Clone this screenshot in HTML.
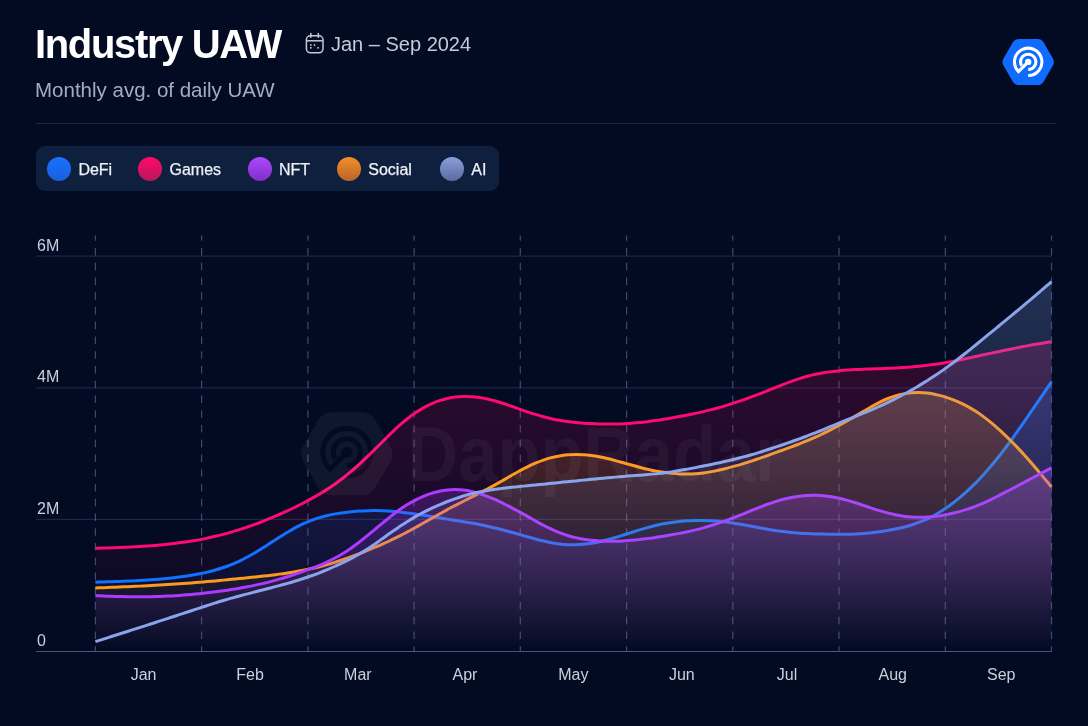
<!DOCTYPE html>
<html><head><meta charset="utf-8">
<style>
html,body{margin:0;padding:0;}
body{width:1088px;height:726px;background:#020b22;position:relative;overflow:hidden;font-family:"Liberation Sans",sans-serif;}
.title{position:absolute;left:35px;top:21px;font-size:40px;font-weight:700;color:#fff;white-space:nowrap;letter-spacing:-1.35px;line-height:46px;}
.sub{position:absolute;left:34.5px;top:78px;font-size:20.5px;color:#a2adc1;white-space:nowrap;line-height:24px;letter-spacing:0px;}
.date{position:absolute;left:331px;top:32px;font-size:20px;color:#c3cad8;white-space:nowrap;line-height:24px;}
.sep{position:absolute;left:36px;top:123px;width:1020px;height:1px;background:#1a2744;}
.legend{position:absolute;left:35.5px;top:146px;width:462.5px;height:45px;background:#0f203f;border-radius:9px;}
.li{position:absolute;top:0.8px;height:45px;line-height:45px;font-size:16px;color:#eef1f6;white-space:nowrap;-webkit-text-stroke:0.25px #eef1f6;}
.dot{position:absolute;top:10.8px;width:24px;height:24px;border-radius:50%;}
svg{position:absolute;left:0;top:0;will-change:transform;}
.title,.sub,.date,.legend{will-change:transform;}
</style></head><body>
<div class="title">Industry UAW</div>
<div class="date">Jan – Sep 2024</div>
<div class="sub">Monthly avg. of daily UAW</div>
<div class="sep"></div>
<div class="legend">
 <div class="dot" style="left:10.8px;background:linear-gradient(#1772ff,#1a5fdc)"></div><div class="li" style="left:42.4px">DeFi</div>
 <div class="dot" style="left:102.1px;background:linear-gradient(#ff0a6a,#b8185a)"></div><div class="li" style="left:133.5px">Games</div>
 <div class="dot" style="left:212px;background:linear-gradient(#b048ff,#7f2fc8)"></div><div class="li" style="left:243px">NFT</div>
 <div class="dot" style="left:300.8px;background:linear-gradient(#f58d2a,#b8642a)"></div><div class="li" style="left:332.3px">Social</div>
 <div class="dot" style="left:403.5px;background:linear-gradient(#8aa0dc,#5a6a9c)"></div><div class="li" style="left:435.3px">AI</div>
</div>
<svg width="1088" height="726" viewBox="0 0 1088 726">
<defs><linearGradient id="g_games" gradientUnits="userSpaceOnUse" x1="0" y1="341.7" x2="0" y2="651.5"><stop offset="0" stop-color="#ff0a70" stop-opacity="0.19"/><stop offset="1" stop-color="#ff0a70" stop-opacity="0"/></linearGradient><linearGradient id="g_defi" gradientUnits="userSpaceOnUse" x1="0" y1="381.8" x2="0" y2="651.5"><stop offset="0" stop-color="#1172ff" stop-opacity="0.22"/><stop offset="1" stop-color="#1172ff" stop-opacity="0"/></linearGradient><linearGradient id="g_social" gradientUnits="userSpaceOnUse" x1="0" y1="392.5" x2="0" y2="651.5"><stop offset="0" stop-color="#ff981f" stop-opacity="0.21"/><stop offset="1" stop-color="#ff981f" stop-opacity="0"/></linearGradient><linearGradient id="g_nft" gradientUnits="userSpaceOnUse" x1="0" y1="467.7" x2="0" y2="651.5"><stop offset="0" stop-color="#ad3bff" stop-opacity="0.28"/><stop offset="1" stop-color="#ad3bff" stop-opacity="0"/></linearGradient><linearGradient id="g_ai" gradientUnits="userSpaceOnUse" x1="0" y1="281.7" x2="0" y2="651.5"><stop offset="0" stop-color="#8aa3ea" stop-opacity="0.25"/><stop offset="1" stop-color="#8aa3ea" stop-opacity="0"/></linearGradient></defs>
<g fill="none" stroke="#c3cad8" stroke-width="1.5"><rect x="306.4" y="35.8" width="16.6" height="17" rx="4"/><line x1="306.4" y1="40.8" x2="322.8" y2="40.8"/><line x1="310.8" y1="33.6" x2="310.8" y2="37.2" stroke-linecap="round"/><line x1="318.3" y1="33.6" x2="318.3" y2="37.2" stroke-linecap="round"/></g>
<g fill="#c3cad8"><rect x="310" y="44.2" width="1.6" height="1.6"/><rect x="313.7" y="44.2" width="1.6" height="1.6"/><rect x="310" y="47" width="1.6" height="1.6"/><rect x="317.3" y="47" width="1.6" height="1.6"/></g>
<path d="M1052.90,58.54 Q1054.90,62.00 1052.90,65.46 L1043.55,81.66 Q1041.55,85.12 1037.55,85.12 L1018.85,85.12 Q1014.85,85.12 1012.85,81.66 L1003.50,65.46 Q1001.50,62.00 1003.50,58.54 L1012.85,42.34 Q1014.85,38.88 1018.85,38.88 L1037.55,38.88 Q1041.55,38.88 1043.55,42.34 Z" fill="#106bff"/><g fill="none" stroke="#fff" stroke-width="3"><path d="M1028.20,75.60 A13.70,13.70 0 1 0 1018.51,71.59 L1028.20,61.90"/><path d="M1028.20,69.57 A7.67,7.67 0 1 0 1021.56,65.74"/></g><circle cx="1028.2" cy="61.9" r="3.2" fill="#fff"/>
<line x1="36" y1="256.2" x2="1052" y2="256.2" stroke="#6a8cdc" stroke-opacity="0.22" stroke-width="1.2"/><line x1="36" y1="387.8" x2="1052" y2="387.8" stroke="#6a8cdc" stroke-opacity="0.22" stroke-width="1.2"/><line x1="36" y1="519.4" x2="1052" y2="519.4" stroke="#6a8cdc" stroke-opacity="0.22" stroke-width="1.2"/>
<line x1="95.4" y1="235.5" x2="95.4" y2="651" stroke="#8caae6" stroke-opacity="0.40" stroke-width="1.2" stroke-dasharray="7.5 7.25" stroke-dashoffset="2.3"/><line x1="201.6" y1="235.5" x2="201.6" y2="651" stroke="#8caae6" stroke-opacity="0.40" stroke-width="1.2" stroke-dasharray="7.5 7.25" stroke-dashoffset="2.3"/><line x1="307.9" y1="235.5" x2="307.9" y2="651" stroke="#8caae6" stroke-opacity="0.40" stroke-width="1.2" stroke-dasharray="7.5 7.25" stroke-dashoffset="2.3"/><line x1="414.1" y1="235.5" x2="414.1" y2="651" stroke="#8caae6" stroke-opacity="0.40" stroke-width="1.2" stroke-dasharray="7.5 7.25" stroke-dashoffset="2.3"/><line x1="520.3" y1="235.5" x2="520.3" y2="651" stroke="#8caae6" stroke-opacity="0.40" stroke-width="1.2" stroke-dasharray="7.5 7.25" stroke-dashoffset="2.3"/><line x1="626.6" y1="235.5" x2="626.6" y2="651" stroke="#8caae6" stroke-opacity="0.40" stroke-width="1.2" stroke-dasharray="7.5 7.25" stroke-dashoffset="2.3"/><line x1="732.8" y1="235.5" x2="732.8" y2="651" stroke="#8caae6" stroke-opacity="0.40" stroke-width="1.2" stroke-dasharray="7.5 7.25" stroke-dashoffset="2.3"/><line x1="839.0" y1="235.5" x2="839.0" y2="651" stroke="#8caae6" stroke-opacity="0.40" stroke-width="1.2" stroke-dasharray="7.5 7.25" stroke-dashoffset="2.3"/><line x1="945.3" y1="235.5" x2="945.3" y2="651" stroke="#8caae6" stroke-opacity="0.40" stroke-width="1.2" stroke-dasharray="7.5 7.25" stroke-dashoffset="2.3"/><line x1="1051.5" y1="235.5" x2="1051.5" y2="651" stroke="#8caae6" stroke-opacity="0.40" stroke-width="1.2" stroke-dasharray="7.5 7.25" stroke-dashoffset="2.3"/>
<path d="M95.4,548.29 C98.1,548.22 100.7,548.14 103.4,548.06 C106.1,547.98 108.7,547.90 111.4,547.81 C114.1,547.72 116.7,547.63 119.4,547.53 C122.1,547.42 124.7,547.32 127.4,547.20 C130.1,547.08 132.7,546.95 135.4,546.80 C138.1,546.66 140.7,546.50 143.4,546.33 C146.1,546.16 148.7,545.97 151.4,545.76 C154.1,545.56 156.7,545.33 159.4,545.09 C162.1,544.84 164.7,544.58 167.4,544.29 C170.1,544.00 172.7,543.70 175.4,543.36 C178.1,543.03 180.7,542.67 183.4,542.29 C186.1,541.91 188.7,541.50 191.4,541.06 C194.1,540.62 196.7,540.16 199.4,539.66 C202.1,539.17 204.7,538.64 207.4,538.09 C210.1,537.53 212.7,536.94 215.4,536.32 C218.1,535.69 220.7,535.03 223.4,534.33 C226.1,533.63 228.7,532.89 231.4,532.11 C234.1,531.33 236.7,530.52 239.4,529.66 C242.1,528.81 244.7,527.91 247.4,526.98 C250.1,526.06 252.7,525.09 255.4,524.11 C258.1,523.13 260.7,522.12 263.4,521.09 C266.1,520.05 268.7,518.99 271.4,517.89 C274.1,516.80 276.7,515.66 279.4,514.50 C282.1,513.33 284.7,512.12 287.4,510.88 C290.1,509.64 292.7,508.36 295.4,507.05 C298.1,505.73 300.7,504.38 303.4,502.99 C306.1,501.60 308.7,500.17 311.4,498.69 C314.1,497.22 316.7,495.69 319.4,494.10 C322.1,492.51 324.7,490.86 327.4,489.13 C330.1,487.40 332.7,485.59 335.4,483.69 C338.1,481.79 340.7,479.80 343.4,477.71 C346.1,475.63 348.7,473.45 351.4,471.17 C354.1,468.90 356.7,466.53 359.4,464.09 C362.1,461.65 364.7,459.13 367.4,456.55 C370.1,453.98 372.7,451.35 375.4,448.70 C378.1,446.05 380.7,443.38 383.4,440.73 C386.1,438.08 388.7,435.45 391.4,432.89 C394.1,430.33 396.7,427.84 399.4,425.47 C402.1,423.09 404.7,420.84 407.4,418.73 C410.1,416.61 412.7,414.64 415.4,412.82 C418.1,411.00 420.7,409.34 423.4,407.84 C426.1,406.33 428.7,404.98 431.4,403.79 C434.1,402.60 436.7,401.57 439.4,400.68 C442.1,399.80 444.7,399.06 447.4,398.47 C450.1,397.88 452.7,397.42 455.4,397.10 C458.1,396.78 460.7,396.59 463.4,396.53 C466.1,396.46 468.7,396.52 471.4,396.70 C474.1,396.87 476.7,397.16 479.4,397.55 C482.1,397.94 484.7,398.44 487.4,399.02 C490.1,399.61 492.7,400.29 495.4,401.04 C498.1,401.80 500.7,402.63 503.4,403.50 C506.1,404.37 508.7,405.29 511.4,406.22 C514.1,407.16 516.7,408.11 519.4,409.05 C522.1,409.99 524.7,410.92 527.4,411.82 C530.1,412.73 532.7,413.60 535.4,414.43 C538.1,415.26 540.7,416.04 543.4,416.75 C546.1,417.47 548.7,418.12 551.4,418.70 C554.1,419.29 556.7,419.82 559.4,420.29 C562.1,420.76 564.7,421.17 567.4,421.54 C570.1,421.90 572.7,422.21 575.4,422.48 C578.1,422.75 580.7,422.97 583.4,423.16 C586.1,423.35 588.7,423.50 591.4,423.62 C594.1,423.74 596.7,423.84 599.4,423.90 C602.1,423.97 604.7,424.01 607.4,424.02 C610.1,424.03 612.7,424.01 615.4,423.95 C618.1,423.90 620.7,423.81 623.4,423.69 C626.1,423.56 628.7,423.41 631.4,423.22 C634.1,423.02 636.7,422.80 639.4,422.54 C642.1,422.28 644.7,421.98 647.4,421.65 C650.1,421.32 652.7,420.96 655.4,420.57 C658.1,420.18 660.7,419.76 663.4,419.33 C666.1,418.89 668.7,418.44 671.4,417.97 C674.1,417.51 676.7,417.04 679.4,416.55 C682.1,416.06 684.7,415.55 687.4,415.03 C690.1,414.50 692.7,413.96 695.4,413.39 C698.1,412.82 700.7,412.23 703.4,411.60 C706.1,410.98 708.7,410.33 711.4,409.64 C714.1,408.95 716.7,408.23 719.4,407.47 C722.1,406.72 724.7,405.92 727.4,405.09 C730.1,404.27 732.7,403.41 735.4,402.53 C738.1,401.64 740.7,400.73 743.4,399.80 C746.1,398.86 748.7,397.90 751.4,396.92 C754.1,395.93 756.7,394.93 759.4,393.90 C762.1,392.87 764.7,391.82 767.4,390.75 C770.1,389.69 772.7,388.61 775.4,387.54 C778.1,386.46 780.7,385.39 783.4,384.35 C786.1,383.31 788.7,382.30 791.4,381.34 C794.1,380.37 796.7,379.46 799.4,378.60 C802.1,377.75 804.7,376.96 807.4,376.24 C810.1,375.53 812.7,374.89 815.4,374.31 C818.1,373.74 820.7,373.24 823.4,372.79 C826.1,372.35 828.7,371.96 831.4,371.62 C834.1,371.28 836.7,370.99 839.4,370.73 C842.1,370.48 844.7,370.26 847.4,370.08 C850.1,369.89 852.7,369.73 855.4,369.59 C858.1,369.46 860.7,369.34 863.4,369.23 C866.1,369.12 868.7,369.03 871.4,368.93 C874.1,368.84 876.7,368.75 879.4,368.66 C882.1,368.56 884.7,368.47 887.4,368.36 C890.1,368.25 892.7,368.13 895.4,368.00 C898.1,367.86 900.7,367.71 903.4,367.53 C906.1,367.36 908.7,367.16 911.4,366.94 C914.1,366.72 916.7,366.48 919.4,366.22 C922.1,365.96 924.7,365.67 927.4,365.36 C930.1,365.05 932.7,364.70 935.4,364.32 C938.1,363.94 940.7,363.53 943.4,363.07 C946.1,362.62 948.7,362.13 951.4,361.62 C954.1,361.11 956.7,360.57 959.4,360.01 C962.1,359.46 964.7,358.89 967.4,358.31 C970.1,357.74 972.7,357.15 975.4,356.57 C978.1,356.00 980.7,355.42 983.4,354.84 C986.1,354.27 988.7,353.69 991.4,353.12 C994.1,352.55 996.7,351.98 999.4,351.42 C1002.1,350.86 1004.7,350.30 1007.4,349.75 C1010.1,349.19 1012.7,348.65 1015.4,348.11 C1018.1,347.57 1020.7,347.05 1023.4,346.54 C1026.1,346.04 1028.7,345.54 1031.4,345.07 C1034.1,344.59 1036.7,344.13 1039.4,343.67 C1042.1,343.22 1044.7,342.77 1047.4,342.33 C1048.8,342.11 1050.1,341.88 1051.5,341.66 L1051.5,651.5 L95.4,651.5 Z" fill="url(#g_games)"/><path d="M95.4,548.29 C98.1,548.22 100.7,548.14 103.4,548.06 C106.1,547.98 108.7,547.90 111.4,547.81 C114.1,547.72 116.7,547.63 119.4,547.53 C122.1,547.42 124.7,547.32 127.4,547.20 C130.1,547.08 132.7,546.95 135.4,546.80 C138.1,546.66 140.7,546.50 143.4,546.33 C146.1,546.16 148.7,545.97 151.4,545.76 C154.1,545.56 156.7,545.33 159.4,545.09 C162.1,544.84 164.7,544.58 167.4,544.29 C170.1,544.00 172.7,543.70 175.4,543.36 C178.1,543.03 180.7,542.67 183.4,542.29 C186.1,541.91 188.7,541.50 191.4,541.06 C194.1,540.62 196.7,540.16 199.4,539.66 C202.1,539.17 204.7,538.64 207.4,538.09 C210.1,537.53 212.7,536.94 215.4,536.32 C218.1,535.69 220.7,535.03 223.4,534.33 C226.1,533.63 228.7,532.89 231.4,532.11 C234.1,531.33 236.7,530.52 239.4,529.66 C242.1,528.81 244.7,527.91 247.4,526.98 C250.1,526.06 252.7,525.09 255.4,524.11 C258.1,523.13 260.7,522.12 263.4,521.09 C266.1,520.05 268.7,518.99 271.4,517.89 C274.1,516.80 276.7,515.66 279.4,514.50 C282.1,513.33 284.7,512.12 287.4,510.88 C290.1,509.64 292.7,508.36 295.4,507.05 C298.1,505.73 300.7,504.38 303.4,502.99 C306.1,501.60 308.7,500.17 311.4,498.69 C314.1,497.22 316.7,495.69 319.4,494.10 C322.1,492.51 324.7,490.86 327.4,489.13 C330.1,487.40 332.7,485.59 335.4,483.69 C338.1,481.79 340.7,479.80 343.4,477.71 C346.1,475.63 348.7,473.45 351.4,471.17 C354.1,468.90 356.7,466.53 359.4,464.09 C362.1,461.65 364.7,459.13 367.4,456.55 C370.1,453.98 372.7,451.35 375.4,448.70 C378.1,446.05 380.7,443.38 383.4,440.73 C386.1,438.08 388.7,435.45 391.4,432.89 C394.1,430.33 396.7,427.84 399.4,425.47 C402.1,423.09 404.7,420.84 407.4,418.73 C410.1,416.61 412.7,414.64 415.4,412.82 C418.1,411.00 420.7,409.34 423.4,407.84 C426.1,406.33 428.7,404.98 431.4,403.79 C434.1,402.60 436.7,401.57 439.4,400.68 C442.1,399.80 444.7,399.06 447.4,398.47 C450.1,397.88 452.7,397.42 455.4,397.10 C458.1,396.78 460.7,396.59 463.4,396.53 C466.1,396.46 468.7,396.52 471.4,396.70 C474.1,396.87 476.7,397.16 479.4,397.55 C482.1,397.94 484.7,398.44 487.4,399.02 C490.1,399.61 492.7,400.29 495.4,401.04 C498.1,401.80 500.7,402.63 503.4,403.50 C506.1,404.37 508.7,405.29 511.4,406.22 C514.1,407.16 516.7,408.11 519.4,409.05 C522.1,409.99 524.7,410.92 527.4,411.82 C530.1,412.73 532.7,413.60 535.4,414.43 C538.1,415.26 540.7,416.04 543.4,416.75 C546.1,417.47 548.7,418.12 551.4,418.70 C554.1,419.29 556.7,419.82 559.4,420.29 C562.1,420.76 564.7,421.17 567.4,421.54 C570.1,421.90 572.7,422.21 575.4,422.48 C578.1,422.75 580.7,422.97 583.4,423.16 C586.1,423.35 588.7,423.50 591.4,423.62 C594.1,423.74 596.7,423.84 599.4,423.90 C602.1,423.97 604.7,424.01 607.4,424.02 C610.1,424.03 612.7,424.01 615.4,423.95 C618.1,423.90 620.7,423.81 623.4,423.69 C626.1,423.56 628.7,423.41 631.4,423.22 C634.1,423.02 636.7,422.80 639.4,422.54 C642.1,422.28 644.7,421.98 647.4,421.65 C650.1,421.32 652.7,420.96 655.4,420.57 C658.1,420.18 660.7,419.76 663.4,419.33 C666.1,418.89 668.7,418.44 671.4,417.97 C674.1,417.51 676.7,417.04 679.4,416.55 C682.1,416.06 684.7,415.55 687.4,415.03 C690.1,414.50 692.7,413.96 695.4,413.39 C698.1,412.82 700.7,412.23 703.4,411.60 C706.1,410.98 708.7,410.33 711.4,409.64 C714.1,408.95 716.7,408.23 719.4,407.47 C722.1,406.72 724.7,405.92 727.4,405.09 C730.1,404.27 732.7,403.41 735.4,402.53 C738.1,401.64 740.7,400.73 743.4,399.80 C746.1,398.86 748.7,397.90 751.4,396.92 C754.1,395.93 756.7,394.93 759.4,393.90 C762.1,392.87 764.7,391.82 767.4,390.75 C770.1,389.69 772.7,388.61 775.4,387.54 C778.1,386.46 780.7,385.39 783.4,384.35 C786.1,383.31 788.7,382.30 791.4,381.34 C794.1,380.37 796.7,379.46 799.4,378.60 C802.1,377.75 804.7,376.96 807.4,376.24 C810.1,375.53 812.7,374.89 815.4,374.31 C818.1,373.74 820.7,373.24 823.4,372.79 C826.1,372.35 828.7,371.96 831.4,371.62 C834.1,371.28 836.7,370.99 839.4,370.73 C842.1,370.48 844.7,370.26 847.4,370.08 C850.1,369.89 852.7,369.73 855.4,369.59 C858.1,369.46 860.7,369.34 863.4,369.23 C866.1,369.12 868.7,369.03 871.4,368.93 C874.1,368.84 876.7,368.75 879.4,368.66 C882.1,368.56 884.7,368.47 887.4,368.36 C890.1,368.25 892.7,368.13 895.4,368.00 C898.1,367.86 900.7,367.71 903.4,367.53 C906.1,367.36 908.7,367.16 911.4,366.94 C914.1,366.72 916.7,366.48 919.4,366.22 C922.1,365.96 924.7,365.67 927.4,365.36 C930.1,365.05 932.7,364.70 935.4,364.32 C938.1,363.94 940.7,363.53 943.4,363.07 C946.1,362.62 948.7,362.13 951.4,361.62 C954.1,361.11 956.7,360.57 959.4,360.01 C962.1,359.46 964.7,358.89 967.4,358.31 C970.1,357.74 972.7,357.15 975.4,356.57 C978.1,356.00 980.7,355.42 983.4,354.84 C986.1,354.27 988.7,353.69 991.4,353.12 C994.1,352.55 996.7,351.98 999.4,351.42 C1002.1,350.86 1004.7,350.30 1007.4,349.75 C1010.1,349.19 1012.7,348.65 1015.4,348.11 C1018.1,347.57 1020.7,347.05 1023.4,346.54 C1026.1,346.04 1028.7,345.54 1031.4,345.07 C1034.1,344.59 1036.7,344.13 1039.4,343.67 C1042.1,343.22 1044.7,342.77 1047.4,342.33 C1048.8,342.11 1050.1,341.88 1051.5,341.66" fill="none" stroke="#ff0a70" stroke-width="3"/><path d="M95.4,582.18 C98.1,582.10 100.7,582.02 103.4,581.94 C106.1,581.86 108.7,581.77 111.4,581.69 C114.1,581.60 116.7,581.51 119.4,581.41 C122.1,581.31 124.7,581.21 127.4,581.09 C130.1,580.98 132.7,580.86 135.4,580.72 C138.1,580.59 140.7,580.45 143.4,580.29 C146.1,580.13 148.7,579.96 151.4,579.78 C154.1,579.59 156.7,579.39 159.4,579.17 C162.1,578.94 164.7,578.70 167.4,578.44 C170.1,578.17 172.7,577.88 175.4,577.57 C178.1,577.25 180.7,576.90 183.4,576.53 C186.1,576.15 188.7,575.74 191.4,575.30 C194.1,574.85 196.7,574.37 199.4,573.84 C202.1,573.31 204.7,572.73 207.4,572.10 C210.1,571.46 212.7,570.77 215.4,570.01 C218.1,569.25 220.7,568.42 223.4,567.51 C226.1,566.60 228.7,565.62 231.4,564.54 C234.1,563.47 236.7,562.30 239.4,561.04 C242.1,559.79 244.7,558.44 247.4,557.00 C250.1,555.57 252.7,554.05 255.4,552.46 C258.1,550.88 260.7,549.23 263.4,547.54 C266.1,545.84 268.7,544.11 271.4,542.37 C274.1,540.63 276.7,538.89 279.4,537.18 C282.1,535.47 284.7,533.80 287.4,532.20 C290.1,530.60 292.7,529.07 295.4,527.64 C298.1,526.22 300.7,524.89 303.4,523.68 C306.1,522.46 308.7,521.35 311.4,520.34 C314.1,519.34 316.7,518.43 319.4,517.63 C322.1,516.83 324.7,516.12 327.4,515.50 C330.1,514.88 332.7,514.34 335.4,513.86 C338.1,513.39 340.7,512.99 343.4,512.64 C346.1,512.29 348.7,511.99 351.4,511.72 C354.1,511.46 356.7,511.24 359.4,511.06 C362.1,510.89 364.7,510.76 367.4,510.68 C370.1,510.59 372.7,510.56 375.4,510.58 C378.1,510.60 380.7,510.67 383.4,510.79 C386.1,510.91 388.7,511.08 391.4,511.28 C394.1,511.49 396.7,511.74 399.4,512.02 C402.1,512.30 404.7,512.61 407.4,512.95 C410.1,513.29 412.7,513.65 415.4,514.04 C418.1,514.42 420.7,514.82 423.4,515.23 C426.1,515.65 428.7,516.07 431.4,516.50 C434.1,516.93 436.7,517.37 439.4,517.80 C442.1,518.24 444.7,518.67 447.4,519.11 C450.1,519.54 452.7,519.96 455.4,520.40 C458.1,520.83 460.7,521.26 463.4,521.71 C466.1,522.16 468.7,522.62 471.4,523.09 C474.1,523.57 476.7,524.07 479.4,524.59 C482.1,525.12 484.7,525.66 487.4,526.24 C490.1,526.82 492.7,527.43 495.4,528.06 C498.1,528.70 500.7,529.37 503.4,530.06 C506.1,530.76 508.7,531.49 511.4,532.23 C514.1,532.97 516.7,533.73 519.4,534.49 C522.1,535.25 524.7,536.01 527.4,536.76 C530.1,537.52 532.7,538.25 535.4,538.96 C538.1,539.67 540.7,540.34 543.4,540.96 C546.1,541.58 548.7,542.16 551.4,542.65 C554.1,543.15 556.7,543.58 559.4,543.92 C562.1,544.25 564.7,544.50 567.4,544.64 C570.1,544.79 572.7,544.83 575.4,544.78 C578.1,544.72 580.7,544.56 583.4,544.31 C586.1,544.05 588.7,543.70 591.4,543.26 C594.1,542.82 596.7,542.29 599.4,541.70 C602.1,541.10 604.7,540.44 607.4,539.74 C610.1,539.03 612.7,538.27 615.4,537.48 C618.1,536.69 620.7,535.87 623.4,535.03 C626.1,534.19 628.7,533.33 631.4,532.47 C634.1,531.61 636.7,530.76 639.4,529.93 C642.1,529.11 644.7,528.32 647.4,527.58 C650.1,526.84 652.7,526.16 655.4,525.53 C658.1,524.90 660.7,524.33 663.4,523.82 C666.1,523.31 668.7,522.85 671.4,522.46 C674.1,522.06 676.7,521.72 679.4,521.44 C682.1,521.16 684.7,520.94 687.4,520.78 C690.1,520.62 692.7,520.52 695.4,520.46 C698.1,520.41 700.7,520.41 703.4,520.46 C706.1,520.51 708.7,520.61 711.4,520.76 C714.1,520.91 716.7,521.11 719.4,521.36 C722.1,521.61 724.7,521.91 727.4,522.26 C730.1,522.60 732.7,522.99 735.4,523.42 C738.1,523.85 740.7,524.31 743.4,524.79 C746.1,525.28 748.7,525.78 751.4,526.28 C754.1,526.79 756.7,527.30 759.4,527.79 C762.1,528.29 764.7,528.77 767.4,529.22 C770.1,529.68 772.7,530.11 775.4,530.51 C778.1,530.90 780.7,531.27 783.4,531.60 C786.1,531.93 788.7,532.22 791.4,532.47 C794.1,532.73 796.7,532.94 799.4,533.13 C802.1,533.32 804.7,533.47 807.4,533.59 C810.1,533.72 812.7,533.82 815.4,533.90 C818.1,533.99 820.7,534.06 823.4,534.11 C826.1,534.16 828.7,534.20 831.4,534.22 C834.1,534.24 836.7,534.26 839.4,534.25 C842.1,534.24 844.7,534.21 847.4,534.15 C850.1,534.10 852.7,534.01 855.4,533.89 C858.1,533.77 860.7,533.62 863.4,533.42 C866.1,533.23 868.7,533.00 871.4,532.72 C874.1,532.45 876.7,532.13 879.4,531.77 C882.1,531.40 884.7,531.00 887.4,530.55 C890.1,530.09 892.7,529.59 895.4,529.04 C898.1,528.48 900.7,527.88 903.4,527.21 C906.1,526.54 908.7,525.80 911.4,524.97 C914.1,524.14 916.7,523.23 919.4,522.21 C922.1,521.19 924.7,520.07 927.4,518.82 C930.1,517.57 932.7,516.20 935.4,514.69 C938.1,513.19 940.7,511.56 943.4,509.81 C946.1,508.06 948.7,506.19 951.4,504.21 C954.1,502.22 956.7,500.12 959.4,497.90 C962.1,495.68 964.7,493.34 967.4,490.88 C970.1,488.42 972.7,485.84 975.4,483.13 C978.1,480.43 980.7,477.60 983.4,474.66 C986.1,471.72 988.7,468.66 991.4,465.50 C994.1,462.34 996.7,459.06 999.4,455.69 C1002.1,452.31 1004.7,448.83 1007.4,445.25 C1010.1,441.67 1012.7,437.99 1015.4,434.24 C1018.1,430.50 1020.7,426.68 1023.4,422.84 C1026.1,418.99 1028.7,415.11 1031.4,411.23 C1034.1,407.35 1036.7,403.46 1039.4,399.56 C1042.1,395.66 1044.7,391.76 1047.4,387.85 C1048.8,385.85 1050.1,383.85 1051.5,381.85 L1051.5,651.5 L95.4,651.5 Z" fill="url(#g_defi)"/><path d="M95.4,582.18 C98.1,582.10 100.7,582.02 103.4,581.94 C106.1,581.86 108.7,581.77 111.4,581.69 C114.1,581.60 116.7,581.51 119.4,581.41 C122.1,581.31 124.7,581.21 127.4,581.09 C130.1,580.98 132.7,580.86 135.4,580.72 C138.1,580.59 140.7,580.45 143.4,580.29 C146.1,580.13 148.7,579.96 151.4,579.78 C154.1,579.59 156.7,579.39 159.4,579.17 C162.1,578.94 164.7,578.70 167.4,578.44 C170.1,578.17 172.7,577.88 175.4,577.57 C178.1,577.25 180.7,576.90 183.4,576.53 C186.1,576.15 188.7,575.74 191.4,575.30 C194.1,574.85 196.7,574.37 199.4,573.84 C202.1,573.31 204.7,572.73 207.4,572.10 C210.1,571.46 212.7,570.77 215.4,570.01 C218.1,569.25 220.7,568.42 223.4,567.51 C226.1,566.60 228.7,565.62 231.4,564.54 C234.1,563.47 236.7,562.30 239.4,561.04 C242.1,559.79 244.7,558.44 247.4,557.00 C250.1,555.57 252.7,554.05 255.4,552.46 C258.1,550.88 260.7,549.23 263.4,547.54 C266.1,545.84 268.7,544.11 271.4,542.37 C274.1,540.63 276.7,538.89 279.4,537.18 C282.1,535.47 284.7,533.80 287.4,532.20 C290.1,530.60 292.7,529.07 295.4,527.64 C298.1,526.22 300.7,524.89 303.4,523.68 C306.1,522.46 308.7,521.35 311.4,520.34 C314.1,519.34 316.7,518.43 319.4,517.63 C322.1,516.83 324.7,516.12 327.4,515.50 C330.1,514.88 332.7,514.34 335.4,513.86 C338.1,513.39 340.7,512.99 343.4,512.64 C346.1,512.29 348.7,511.99 351.4,511.72 C354.1,511.46 356.7,511.24 359.4,511.06 C362.1,510.89 364.7,510.76 367.4,510.68 C370.1,510.59 372.7,510.56 375.4,510.58 C378.1,510.60 380.7,510.67 383.4,510.79 C386.1,510.91 388.7,511.08 391.4,511.28 C394.1,511.49 396.7,511.74 399.4,512.02 C402.1,512.30 404.7,512.61 407.4,512.95 C410.1,513.29 412.7,513.65 415.4,514.04 C418.1,514.42 420.7,514.82 423.4,515.23 C426.1,515.65 428.7,516.07 431.4,516.50 C434.1,516.93 436.7,517.37 439.4,517.80 C442.1,518.24 444.7,518.67 447.4,519.11 C450.1,519.54 452.7,519.96 455.4,520.40 C458.1,520.83 460.7,521.26 463.4,521.71 C466.1,522.16 468.7,522.62 471.4,523.09 C474.1,523.57 476.7,524.07 479.4,524.59 C482.1,525.12 484.7,525.66 487.4,526.24 C490.1,526.82 492.7,527.43 495.4,528.06 C498.1,528.70 500.7,529.37 503.4,530.06 C506.1,530.76 508.7,531.49 511.4,532.23 C514.1,532.97 516.7,533.73 519.4,534.49 C522.1,535.25 524.7,536.01 527.4,536.76 C530.1,537.52 532.7,538.25 535.4,538.96 C538.1,539.67 540.7,540.34 543.4,540.96 C546.1,541.58 548.7,542.16 551.4,542.65 C554.1,543.15 556.7,543.58 559.4,543.92 C562.1,544.25 564.7,544.50 567.4,544.64 C570.1,544.79 572.7,544.83 575.4,544.78 C578.1,544.72 580.7,544.56 583.4,544.31 C586.1,544.05 588.7,543.70 591.4,543.26 C594.1,542.82 596.7,542.29 599.4,541.70 C602.1,541.10 604.7,540.44 607.4,539.74 C610.1,539.03 612.7,538.27 615.4,537.48 C618.1,536.69 620.7,535.87 623.4,535.03 C626.1,534.19 628.7,533.33 631.4,532.47 C634.1,531.61 636.7,530.76 639.4,529.93 C642.1,529.11 644.7,528.32 647.4,527.58 C650.1,526.84 652.7,526.16 655.4,525.53 C658.1,524.90 660.7,524.33 663.4,523.82 C666.1,523.31 668.7,522.85 671.4,522.46 C674.1,522.06 676.7,521.72 679.4,521.44 C682.1,521.16 684.7,520.94 687.4,520.78 C690.1,520.62 692.7,520.52 695.4,520.46 C698.1,520.41 700.7,520.41 703.4,520.46 C706.1,520.51 708.7,520.61 711.4,520.76 C714.1,520.91 716.7,521.11 719.4,521.36 C722.1,521.61 724.7,521.91 727.4,522.26 C730.1,522.60 732.7,522.99 735.4,523.42 C738.1,523.85 740.7,524.31 743.4,524.79 C746.1,525.28 748.7,525.78 751.4,526.28 C754.1,526.79 756.7,527.30 759.4,527.79 C762.1,528.29 764.7,528.77 767.4,529.22 C770.1,529.68 772.7,530.11 775.4,530.51 C778.1,530.90 780.7,531.27 783.4,531.60 C786.1,531.93 788.7,532.22 791.4,532.47 C794.1,532.73 796.7,532.94 799.4,533.13 C802.1,533.32 804.7,533.47 807.4,533.59 C810.1,533.72 812.7,533.82 815.4,533.90 C818.1,533.99 820.7,534.06 823.4,534.11 C826.1,534.16 828.7,534.20 831.4,534.22 C834.1,534.24 836.7,534.26 839.4,534.25 C842.1,534.24 844.7,534.21 847.4,534.15 C850.1,534.10 852.7,534.01 855.4,533.89 C858.1,533.77 860.7,533.62 863.4,533.42 C866.1,533.23 868.7,533.00 871.4,532.72 C874.1,532.45 876.7,532.13 879.4,531.77 C882.1,531.40 884.7,531.00 887.4,530.55 C890.1,530.09 892.7,529.59 895.4,529.04 C898.1,528.48 900.7,527.88 903.4,527.21 C906.1,526.54 908.7,525.80 911.4,524.97 C914.1,524.14 916.7,523.23 919.4,522.21 C922.1,521.19 924.7,520.07 927.4,518.82 C930.1,517.57 932.7,516.20 935.4,514.69 C938.1,513.19 940.7,511.56 943.4,509.81 C946.1,508.06 948.7,506.19 951.4,504.21 C954.1,502.22 956.7,500.12 959.4,497.90 C962.1,495.68 964.7,493.34 967.4,490.88 C970.1,488.42 972.7,485.84 975.4,483.13 C978.1,480.43 980.7,477.60 983.4,474.66 C986.1,471.72 988.7,468.66 991.4,465.50 C994.1,462.34 996.7,459.06 999.4,455.69 C1002.1,452.31 1004.7,448.83 1007.4,445.25 C1010.1,441.67 1012.7,437.99 1015.4,434.24 C1018.1,430.50 1020.7,426.68 1023.4,422.84 C1026.1,418.99 1028.7,415.11 1031.4,411.23 C1034.1,407.35 1036.7,403.46 1039.4,399.56 C1042.1,395.66 1044.7,391.76 1047.4,387.85 C1048.8,385.85 1050.1,383.85 1051.5,381.85" fill="none" stroke="#1172ff" stroke-width="3"/><path d="M95.4,587.93 C98.1,587.83 100.7,587.73 103.4,587.63 C106.1,587.53 108.7,587.43 111.4,587.32 C114.1,587.22 116.7,587.11 119.4,587.00 C122.1,586.90 124.7,586.78 127.4,586.67 C130.1,586.55 132.7,586.44 135.4,586.31 C138.1,586.19 140.7,586.06 143.4,585.93 C146.1,585.80 148.7,585.66 151.4,585.51 C154.1,585.37 156.7,585.22 159.4,585.06 C162.1,584.90 164.7,584.74 167.4,584.57 C170.1,584.41 172.7,584.23 175.4,584.05 C178.1,583.87 180.7,583.69 183.4,583.50 C186.1,583.31 188.7,583.11 191.4,582.91 C194.1,582.71 196.7,582.50 199.4,582.29 C202.1,582.07 204.7,581.85 207.4,581.61 C210.1,581.38 212.7,581.14 215.4,580.89 C218.1,580.64 220.7,580.39 223.4,580.13 C226.1,579.88 228.7,579.62 231.4,579.35 C234.1,579.09 236.7,578.83 239.4,578.56 C242.1,578.30 244.7,578.03 247.4,577.76 C250.1,577.49 252.7,577.22 255.4,576.94 C258.1,576.66 260.7,576.38 263.4,576.08 C266.1,575.79 268.7,575.48 271.4,575.16 C274.1,574.83 276.7,574.49 279.4,574.13 C282.1,573.77 284.7,573.39 287.4,572.98 C290.1,572.58 292.7,572.14 295.4,571.68 C298.1,571.22 300.7,570.73 303.4,570.21 C306.1,569.69 308.7,569.14 311.4,568.55 C314.1,567.97 316.7,567.34 319.4,566.68 C322.1,566.02 324.7,565.32 327.4,564.57 C330.1,563.83 332.7,563.03 335.4,562.19 C338.1,561.35 340.7,560.46 343.4,559.53 C346.1,558.60 348.7,557.64 351.4,556.65 C354.1,555.65 356.7,554.63 359.4,553.59 C362.1,552.55 364.7,551.49 367.4,550.42 C370.1,549.34 372.7,548.24 375.4,547.12 C378.1,546.00 380.7,544.85 383.4,543.66 C386.1,542.48 388.7,541.25 391.4,539.98 C394.1,538.71 396.7,537.40 399.4,536.05 C402.1,534.70 404.7,533.32 407.4,531.90 C410.1,530.48 412.7,529.03 415.4,527.55 C418.1,526.07 420.7,524.56 423.4,523.05 C426.1,521.53 428.7,520.01 431.4,518.49 C434.1,516.97 436.7,515.47 439.4,513.98 C442.1,512.50 444.7,511.03 447.4,509.59 C450.1,508.15 452.7,506.74 455.4,505.35 C458.1,503.95 460.7,502.59 463.4,501.23 C466.1,499.88 468.7,498.54 471.4,497.20 C474.1,495.86 476.7,494.52 479.4,493.15 C482.1,491.79 484.7,490.40 487.4,488.99 C490.1,487.57 492.7,486.13 495.4,484.65 C498.1,483.17 500.7,481.65 503.4,480.12 C506.1,478.59 508.7,477.05 511.4,475.53 C514.1,474.00 516.7,472.50 519.4,471.04 C522.1,469.59 524.7,468.18 527.4,466.86 C530.1,465.53 532.7,464.28 535.4,463.14 C538.1,462.00 540.7,460.98 543.4,460.07 C546.1,459.16 548.7,458.36 551.4,457.67 C554.1,456.98 556.7,456.40 559.4,455.93 C562.1,455.46 564.7,455.11 567.4,454.86 C570.1,454.61 572.7,454.48 575.4,454.45 C578.1,454.42 580.7,454.50 583.4,454.67 C586.1,454.85 588.7,455.13 591.4,455.50 C594.1,455.86 596.7,456.31 599.4,456.83 C602.1,457.35 604.7,457.93 607.4,458.56 C610.1,459.20 612.7,459.88 615.4,460.59 C618.1,461.30 620.7,462.04 623.4,462.79 C626.1,463.54 628.7,464.30 631.4,465.04 C634.1,465.79 636.7,466.52 639.4,467.22 C642.1,467.92 644.7,468.59 647.4,469.21 C650.1,469.83 652.7,470.40 655.4,470.92 C658.1,471.44 660.7,471.90 663.4,472.29 C666.1,472.69 668.7,473.03 671.4,473.30 C674.1,473.57 676.7,473.77 679.4,473.90 C682.1,474.03 684.7,474.07 687.4,474.04 C690.1,474.01 692.7,473.90 695.4,473.71 C698.1,473.51 700.7,473.24 703.4,472.89 C706.1,472.54 708.7,472.12 711.4,471.63 C714.1,471.15 716.7,470.60 719.4,470.00 C722.1,469.41 724.7,468.76 727.4,468.08 C730.1,467.39 732.7,466.67 735.4,465.92 C738.1,465.17 740.7,464.39 743.4,463.58 C746.1,462.77 748.7,461.93 751.4,461.06 C754.1,460.19 756.7,459.28 759.4,458.36 C762.1,457.44 764.7,456.49 767.4,455.54 C770.1,454.59 772.7,453.64 775.4,452.69 C778.1,451.73 780.7,450.78 783.4,449.81 C786.1,448.85 788.7,447.88 791.4,446.89 C794.1,445.91 796.7,444.91 799.4,443.88 C802.1,442.85 804.7,441.79 807.4,440.68 C810.1,439.58 812.7,438.42 815.4,437.21 C818.1,436.01 820.7,434.75 823.4,433.46 C826.1,432.16 828.7,430.83 831.4,429.46 C834.1,428.09 836.7,426.68 839.4,425.23 C842.1,423.78 844.7,422.29 847.4,420.77 C850.1,419.25 852.7,417.69 855.4,416.12 C858.1,414.55 860.7,412.96 863.4,411.38 C866.1,409.80 868.7,408.24 871.4,406.74 C874.1,405.24 876.7,403.79 879.4,402.45 C882.1,401.11 884.7,399.87 887.4,398.76 C890.1,397.66 892.7,396.68 895.4,395.86 C898.1,395.04 900.7,394.37 903.4,393.86 C906.1,393.34 908.7,392.98 911.4,392.76 C914.1,392.54 916.7,392.47 919.4,392.53 C922.1,392.60 924.7,392.79 927.4,393.11 C930.1,393.43 932.7,393.87 935.4,394.42 C938.1,394.97 940.7,395.63 943.4,396.41 C946.1,397.18 948.7,398.06 951.4,399.05 C954.1,400.05 956.7,401.15 959.4,402.37 C962.1,403.59 964.7,404.92 967.4,406.37 C970.1,407.82 972.7,409.39 975.4,411.10 C978.1,412.80 980.7,414.63 983.4,416.59 C986.1,418.56 988.7,420.65 991.4,422.87 C994.1,425.08 996.7,427.41 999.4,429.84 C1002.1,432.26 1004.7,434.77 1007.4,437.37 C1010.1,439.97 1012.7,442.65 1015.4,445.41 C1018.1,448.18 1020.7,451.02 1023.4,453.95 C1026.1,456.88 1028.7,459.89 1031.4,462.97 C1034.1,466.05 1036.7,469.20 1039.4,472.39 C1042.1,475.58 1044.7,478.81 1047.4,482.05 C1048.8,483.72 1050.1,485.38 1051.5,487.05 L1051.5,651.5 L95.4,651.5 Z" fill="url(#g_social)"/><path d="M95.4,587.93 C98.1,587.83 100.7,587.73 103.4,587.63 C106.1,587.53 108.7,587.43 111.4,587.32 C114.1,587.22 116.7,587.11 119.4,587.00 C122.1,586.90 124.7,586.78 127.4,586.67 C130.1,586.55 132.7,586.44 135.4,586.31 C138.1,586.19 140.7,586.06 143.4,585.93 C146.1,585.80 148.7,585.66 151.4,585.51 C154.1,585.37 156.7,585.22 159.4,585.06 C162.1,584.90 164.7,584.74 167.4,584.57 C170.1,584.41 172.7,584.23 175.4,584.05 C178.1,583.87 180.7,583.69 183.4,583.50 C186.1,583.31 188.7,583.11 191.4,582.91 C194.1,582.71 196.7,582.50 199.4,582.29 C202.1,582.07 204.7,581.85 207.4,581.61 C210.1,581.38 212.7,581.14 215.4,580.89 C218.1,580.64 220.7,580.39 223.4,580.13 C226.1,579.88 228.7,579.62 231.4,579.35 C234.1,579.09 236.7,578.83 239.4,578.56 C242.1,578.30 244.7,578.03 247.4,577.76 C250.1,577.49 252.7,577.22 255.4,576.94 C258.1,576.66 260.7,576.38 263.4,576.08 C266.1,575.79 268.7,575.48 271.4,575.16 C274.1,574.83 276.7,574.49 279.4,574.13 C282.1,573.77 284.7,573.39 287.4,572.98 C290.1,572.58 292.7,572.14 295.4,571.68 C298.1,571.22 300.7,570.73 303.4,570.21 C306.1,569.69 308.7,569.14 311.4,568.55 C314.1,567.97 316.7,567.34 319.4,566.68 C322.1,566.02 324.7,565.32 327.4,564.57 C330.1,563.83 332.7,563.03 335.4,562.19 C338.1,561.35 340.7,560.46 343.4,559.53 C346.1,558.60 348.7,557.64 351.4,556.65 C354.1,555.65 356.7,554.63 359.4,553.59 C362.1,552.55 364.7,551.49 367.4,550.42 C370.1,549.34 372.7,548.24 375.4,547.12 C378.1,546.00 380.7,544.85 383.4,543.66 C386.1,542.48 388.7,541.25 391.4,539.98 C394.1,538.71 396.7,537.40 399.4,536.05 C402.1,534.70 404.7,533.32 407.4,531.90 C410.1,530.48 412.7,529.03 415.4,527.55 C418.1,526.07 420.7,524.56 423.4,523.05 C426.1,521.53 428.7,520.01 431.4,518.49 C434.1,516.97 436.7,515.47 439.4,513.98 C442.1,512.50 444.7,511.03 447.4,509.59 C450.1,508.15 452.7,506.74 455.4,505.35 C458.1,503.95 460.7,502.59 463.4,501.23 C466.1,499.88 468.7,498.54 471.4,497.20 C474.1,495.86 476.7,494.52 479.4,493.15 C482.1,491.79 484.7,490.40 487.4,488.99 C490.1,487.57 492.7,486.13 495.4,484.65 C498.1,483.17 500.7,481.65 503.4,480.12 C506.1,478.59 508.7,477.05 511.4,475.53 C514.1,474.00 516.7,472.50 519.4,471.04 C522.1,469.59 524.7,468.18 527.4,466.86 C530.1,465.53 532.7,464.28 535.4,463.14 C538.1,462.00 540.7,460.98 543.4,460.07 C546.1,459.16 548.7,458.36 551.4,457.67 C554.1,456.98 556.7,456.40 559.4,455.93 C562.1,455.46 564.7,455.11 567.4,454.86 C570.1,454.61 572.7,454.48 575.4,454.45 C578.1,454.42 580.7,454.50 583.4,454.67 C586.1,454.85 588.7,455.13 591.4,455.50 C594.1,455.86 596.7,456.31 599.4,456.83 C602.1,457.35 604.7,457.93 607.4,458.56 C610.1,459.20 612.7,459.88 615.4,460.59 C618.1,461.30 620.7,462.04 623.4,462.79 C626.1,463.54 628.7,464.30 631.4,465.04 C634.1,465.79 636.7,466.52 639.4,467.22 C642.1,467.92 644.7,468.59 647.4,469.21 C650.1,469.83 652.7,470.40 655.4,470.92 C658.1,471.44 660.7,471.90 663.4,472.29 C666.1,472.69 668.7,473.03 671.4,473.30 C674.1,473.57 676.7,473.77 679.4,473.90 C682.1,474.03 684.7,474.07 687.4,474.04 C690.1,474.01 692.7,473.90 695.4,473.71 C698.1,473.51 700.7,473.24 703.4,472.89 C706.1,472.54 708.7,472.12 711.4,471.63 C714.1,471.15 716.7,470.60 719.4,470.00 C722.1,469.41 724.7,468.76 727.4,468.08 C730.1,467.39 732.7,466.67 735.4,465.92 C738.1,465.17 740.7,464.39 743.4,463.58 C746.1,462.77 748.7,461.93 751.4,461.06 C754.1,460.19 756.7,459.28 759.4,458.36 C762.1,457.44 764.7,456.49 767.4,455.54 C770.1,454.59 772.7,453.64 775.4,452.69 C778.1,451.73 780.7,450.78 783.4,449.81 C786.1,448.85 788.7,447.88 791.4,446.89 C794.1,445.91 796.7,444.91 799.4,443.88 C802.1,442.85 804.7,441.79 807.4,440.68 C810.1,439.58 812.7,438.42 815.4,437.21 C818.1,436.01 820.7,434.75 823.4,433.46 C826.1,432.16 828.7,430.83 831.4,429.46 C834.1,428.09 836.7,426.68 839.4,425.23 C842.1,423.78 844.7,422.29 847.4,420.77 C850.1,419.25 852.7,417.69 855.4,416.12 C858.1,414.55 860.7,412.96 863.4,411.38 C866.1,409.80 868.7,408.24 871.4,406.74 C874.1,405.24 876.7,403.79 879.4,402.45 C882.1,401.11 884.7,399.87 887.4,398.76 C890.1,397.66 892.7,396.68 895.4,395.86 C898.1,395.04 900.7,394.37 903.4,393.86 C906.1,393.34 908.7,392.98 911.4,392.76 C914.1,392.54 916.7,392.47 919.4,392.53 C922.1,392.60 924.7,392.79 927.4,393.11 C930.1,393.43 932.7,393.87 935.4,394.42 C938.1,394.97 940.7,395.63 943.4,396.41 C946.1,397.18 948.7,398.06 951.4,399.05 C954.1,400.05 956.7,401.15 959.4,402.37 C962.1,403.59 964.7,404.92 967.4,406.37 C970.1,407.82 972.7,409.39 975.4,411.10 C978.1,412.80 980.7,414.63 983.4,416.59 C986.1,418.56 988.7,420.65 991.4,422.87 C994.1,425.08 996.7,427.41 999.4,429.84 C1002.1,432.26 1004.7,434.77 1007.4,437.37 C1010.1,439.97 1012.7,442.65 1015.4,445.41 C1018.1,448.18 1020.7,451.02 1023.4,453.95 C1026.1,456.88 1028.7,459.89 1031.4,462.97 C1034.1,466.05 1036.7,469.20 1039.4,472.39 C1042.1,475.58 1044.7,478.81 1047.4,482.05 C1048.8,483.72 1050.1,485.38 1051.5,487.05" fill="none" stroke="#ff981f" stroke-width="3"/><path d="M95.4,595.71 C98.1,595.81 100.7,595.91 103.4,596.01 C106.1,596.10 108.7,596.19 111.4,596.28 C114.1,596.37 116.7,596.45 119.4,596.52 C122.1,596.59 124.7,596.65 127.4,596.69 C130.1,596.74 132.7,596.78 135.4,596.80 C138.1,596.82 140.7,596.82 143.4,596.80 C146.1,596.79 148.7,596.75 151.4,596.70 C154.1,596.64 156.7,596.56 159.4,596.47 C162.1,596.37 164.7,596.25 167.4,596.12 C170.1,595.98 172.7,595.83 175.4,595.66 C178.1,595.49 180.7,595.30 183.4,595.09 C186.1,594.89 188.7,594.67 191.4,594.43 C194.1,594.20 196.7,593.95 199.4,593.68 C202.1,593.40 204.7,593.11 207.4,592.80 C210.1,592.49 212.7,592.16 215.4,591.82 C218.1,591.47 220.7,591.10 223.4,590.72 C226.1,590.34 228.7,589.93 231.4,589.52 C234.1,589.10 236.7,588.67 239.4,588.21 C242.1,587.75 244.7,587.27 247.4,586.76 C250.1,586.25 252.7,585.71 255.4,585.14 C258.1,584.57 260.7,583.97 263.4,583.34 C266.1,582.70 268.7,582.03 271.4,581.33 C274.1,580.63 276.7,579.90 279.4,579.13 C282.1,578.36 284.7,577.56 287.4,576.73 C290.1,575.90 292.7,575.04 295.4,574.15 C298.1,573.25 300.7,572.33 303.4,571.38 C306.1,570.44 308.7,569.46 311.4,568.45 C314.1,567.44 316.7,566.40 319.4,565.29 C322.1,564.18 324.7,563.02 327.4,561.77 C330.1,560.52 332.7,559.20 335.4,557.77 C338.1,556.34 340.7,554.81 343.4,553.16 C346.1,551.52 348.7,549.77 351.4,547.90 C354.1,546.04 356.7,544.06 359.4,542.00 C362.1,539.94 364.7,537.80 367.4,535.62 C370.1,533.43 372.7,531.20 375.4,528.97 C378.1,526.74 380.7,524.50 383.4,522.29 C386.1,520.09 388.7,517.91 391.4,515.81 C394.1,513.71 396.7,511.69 399.4,509.79 C402.1,507.89 404.7,506.13 407.4,504.51 C410.1,502.89 412.7,501.41 415.4,500.04 C418.1,498.67 420.7,497.42 423.4,496.31 C426.1,495.19 428.7,494.21 431.4,493.36 C434.1,492.51 436.7,491.80 439.4,491.24 C442.1,490.67 444.7,490.25 447.4,489.98 C450.1,489.70 452.7,489.58 455.4,489.60 C458.1,489.62 460.7,489.78 463.4,490.08 C466.1,490.38 468.7,490.82 471.4,491.39 C474.1,491.97 476.7,492.68 479.4,493.51 C482.1,494.34 484.7,495.30 487.4,496.35 C490.1,497.40 492.7,498.54 495.4,499.74 C498.1,500.95 500.7,502.21 503.4,503.51 C506.1,504.81 508.7,506.16 511.4,507.55 C514.1,508.94 516.7,510.37 519.4,511.84 C522.1,513.31 524.7,514.82 527.4,516.34 C530.1,517.86 532.7,519.38 535.4,520.88 C538.1,522.37 540.7,523.84 543.4,525.24 C546.1,526.64 548.7,527.98 551.4,529.23 C554.1,530.48 556.7,531.64 559.4,532.69 C562.1,533.73 564.7,534.65 567.4,535.47 C570.1,536.28 572.7,536.99 575.4,537.60 C578.1,538.21 580.7,538.73 583.4,539.17 C586.1,539.60 588.7,539.96 591.4,540.24 C594.1,540.53 596.7,540.74 599.4,540.90 C602.1,541.05 604.7,541.15 607.4,541.19 C610.1,541.24 612.7,541.23 615.4,541.18 C618.1,541.13 620.7,541.03 623.4,540.88 C626.1,540.74 628.7,540.55 631.4,540.32 C634.1,540.09 636.7,539.83 639.4,539.53 C642.1,539.23 644.7,538.90 647.4,538.54 C650.1,538.19 652.7,537.81 655.4,537.41 C658.1,537.02 660.7,536.60 663.4,536.18 C666.1,535.75 668.7,535.30 671.4,534.84 C674.1,534.37 676.7,533.88 679.4,533.36 C682.1,532.85 684.7,532.31 687.4,531.74 C690.1,531.16 692.7,530.56 695.4,529.91 C698.1,529.27 700.7,528.58 703.4,527.85 C706.1,527.12 708.7,526.34 711.4,525.52 C714.1,524.70 716.7,523.83 719.4,522.92 C722.1,522.01 724.7,521.07 727.4,520.08 C730.1,519.09 732.7,518.07 735.4,517.02 C738.1,515.96 740.7,514.88 743.4,513.79 C746.1,512.69 748.7,511.59 751.4,510.50 C754.1,509.41 756.7,508.33 759.4,507.29 C762.1,506.24 764.7,505.23 767.4,504.27 C770.1,503.31 772.7,502.40 775.4,501.56 C778.1,500.72 780.7,499.96 783.4,499.27 C786.1,498.59 788.7,497.99 791.4,497.48 C794.1,496.97 796.7,496.54 799.4,496.20 C802.1,495.87 804.7,495.62 807.4,495.47 C810.1,495.32 812.7,495.26 815.4,495.31 C818.1,495.35 820.7,495.49 823.4,495.73 C826.1,495.97 828.7,496.31 831.4,496.74 C834.1,497.17 836.7,497.69 839.4,498.30 C842.1,498.91 844.7,499.59 847.4,500.34 C850.1,501.09 852.7,501.90 855.4,502.75 C858.1,503.60 860.7,504.49 863.4,505.39 C866.1,506.30 868.7,507.20 871.4,508.08 C874.1,508.97 876.7,509.82 879.4,510.64 C882.1,511.45 884.7,512.21 887.4,512.91 C890.1,513.60 892.7,514.23 895.4,514.77 C898.1,515.32 900.7,515.78 903.4,516.15 C906.1,516.52 908.7,516.80 911.4,516.99 C914.1,517.18 916.7,517.28 919.4,517.29 C922.1,517.30 924.7,517.23 927.4,517.07 C930.1,516.91 932.7,516.66 935.4,516.34 C938.1,516.02 940.7,515.63 943.4,515.17 C946.1,514.71 948.7,514.18 951.4,513.59 C954.1,513.00 956.7,512.34 959.4,511.61 C962.1,510.88 964.7,510.07 967.4,509.18 C970.1,508.30 972.7,507.35 975.4,506.32 C978.1,505.29 980.7,504.19 983.4,503.02 C986.1,501.85 988.7,500.62 991.4,499.33 C994.1,498.05 996.7,496.71 999.4,495.35 C1002.1,493.99 1004.7,492.60 1007.4,491.20 C1010.1,489.81 1012.7,488.40 1015.4,486.99 C1018.1,485.58 1020.7,484.16 1023.4,482.74 C1026.1,481.32 1028.7,479.90 1031.4,478.47 C1034.1,477.05 1036.7,475.62 1039.4,474.20 C1042.1,472.77 1044.7,471.34 1047.4,469.91 C1048.8,469.18 1050.1,468.45 1051.5,467.72 L1051.5,651.5 L95.4,651.5 Z" fill="url(#g_nft)"/><path d="M95.4,595.71 C98.1,595.81 100.7,595.91 103.4,596.01 C106.1,596.10 108.7,596.19 111.4,596.28 C114.1,596.37 116.7,596.45 119.4,596.52 C122.1,596.59 124.7,596.65 127.4,596.69 C130.1,596.74 132.7,596.78 135.4,596.80 C138.1,596.82 140.7,596.82 143.4,596.80 C146.1,596.79 148.7,596.75 151.4,596.70 C154.1,596.64 156.7,596.56 159.4,596.47 C162.1,596.37 164.7,596.25 167.4,596.12 C170.1,595.98 172.7,595.83 175.4,595.66 C178.1,595.49 180.7,595.30 183.4,595.09 C186.1,594.89 188.7,594.67 191.4,594.43 C194.1,594.20 196.7,593.95 199.4,593.68 C202.1,593.40 204.7,593.11 207.4,592.80 C210.1,592.49 212.7,592.16 215.4,591.82 C218.1,591.47 220.7,591.10 223.4,590.72 C226.1,590.34 228.7,589.93 231.4,589.52 C234.1,589.10 236.7,588.67 239.4,588.21 C242.1,587.75 244.7,587.27 247.4,586.76 C250.1,586.25 252.7,585.71 255.4,585.14 C258.1,584.57 260.7,583.97 263.4,583.34 C266.1,582.70 268.7,582.03 271.4,581.33 C274.1,580.63 276.7,579.90 279.4,579.13 C282.1,578.36 284.7,577.56 287.4,576.73 C290.1,575.90 292.7,575.04 295.4,574.15 C298.1,573.25 300.7,572.33 303.4,571.38 C306.1,570.44 308.7,569.46 311.4,568.45 C314.1,567.44 316.7,566.40 319.4,565.29 C322.1,564.18 324.7,563.02 327.4,561.77 C330.1,560.52 332.7,559.20 335.4,557.77 C338.1,556.34 340.7,554.81 343.4,553.16 C346.1,551.52 348.7,549.77 351.4,547.90 C354.1,546.04 356.7,544.06 359.4,542.00 C362.1,539.94 364.7,537.80 367.4,535.62 C370.1,533.43 372.7,531.20 375.4,528.97 C378.1,526.74 380.7,524.50 383.4,522.29 C386.1,520.09 388.7,517.91 391.4,515.81 C394.1,513.71 396.7,511.69 399.4,509.79 C402.1,507.89 404.7,506.13 407.4,504.51 C410.1,502.89 412.7,501.41 415.4,500.04 C418.1,498.67 420.7,497.42 423.4,496.31 C426.1,495.19 428.7,494.21 431.4,493.36 C434.1,492.51 436.7,491.80 439.4,491.24 C442.1,490.67 444.7,490.25 447.4,489.98 C450.1,489.70 452.7,489.58 455.4,489.60 C458.1,489.62 460.7,489.78 463.4,490.08 C466.1,490.38 468.7,490.82 471.4,491.39 C474.1,491.97 476.7,492.68 479.4,493.51 C482.1,494.34 484.7,495.30 487.4,496.35 C490.1,497.40 492.7,498.54 495.4,499.74 C498.1,500.95 500.7,502.21 503.4,503.51 C506.1,504.81 508.7,506.16 511.4,507.55 C514.1,508.94 516.7,510.37 519.4,511.84 C522.1,513.31 524.7,514.82 527.4,516.34 C530.1,517.86 532.7,519.38 535.4,520.88 C538.1,522.37 540.7,523.84 543.4,525.24 C546.1,526.64 548.7,527.98 551.4,529.23 C554.1,530.48 556.7,531.64 559.4,532.69 C562.1,533.73 564.7,534.65 567.4,535.47 C570.1,536.28 572.7,536.99 575.4,537.60 C578.1,538.21 580.7,538.73 583.4,539.17 C586.1,539.60 588.7,539.96 591.4,540.24 C594.1,540.53 596.7,540.74 599.4,540.90 C602.1,541.05 604.7,541.15 607.4,541.19 C610.1,541.24 612.7,541.23 615.4,541.18 C618.1,541.13 620.7,541.03 623.4,540.88 C626.1,540.74 628.7,540.55 631.4,540.32 C634.1,540.09 636.7,539.83 639.4,539.53 C642.1,539.23 644.7,538.90 647.4,538.54 C650.1,538.19 652.7,537.81 655.4,537.41 C658.1,537.02 660.7,536.60 663.4,536.18 C666.1,535.75 668.7,535.30 671.4,534.84 C674.1,534.37 676.7,533.88 679.4,533.36 C682.1,532.85 684.7,532.31 687.4,531.74 C690.1,531.16 692.7,530.56 695.4,529.91 C698.1,529.27 700.7,528.58 703.4,527.85 C706.1,527.12 708.7,526.34 711.4,525.52 C714.1,524.70 716.7,523.83 719.4,522.92 C722.1,522.01 724.7,521.07 727.4,520.08 C730.1,519.09 732.7,518.07 735.4,517.02 C738.1,515.96 740.7,514.88 743.4,513.79 C746.1,512.69 748.7,511.59 751.4,510.50 C754.1,509.41 756.7,508.33 759.4,507.29 C762.1,506.24 764.7,505.23 767.4,504.27 C770.1,503.31 772.7,502.40 775.4,501.56 C778.1,500.72 780.7,499.96 783.4,499.27 C786.1,498.59 788.7,497.99 791.4,497.48 C794.1,496.97 796.7,496.54 799.4,496.20 C802.1,495.87 804.7,495.62 807.4,495.47 C810.1,495.32 812.7,495.26 815.4,495.31 C818.1,495.35 820.7,495.49 823.4,495.73 C826.1,495.97 828.7,496.31 831.4,496.74 C834.1,497.17 836.7,497.69 839.4,498.30 C842.1,498.91 844.7,499.59 847.4,500.34 C850.1,501.09 852.7,501.90 855.4,502.75 C858.1,503.60 860.7,504.49 863.4,505.39 C866.1,506.30 868.7,507.20 871.4,508.08 C874.1,508.97 876.7,509.82 879.4,510.64 C882.1,511.45 884.7,512.21 887.4,512.91 C890.1,513.60 892.7,514.23 895.4,514.77 C898.1,515.32 900.7,515.78 903.4,516.15 C906.1,516.52 908.7,516.80 911.4,516.99 C914.1,517.18 916.7,517.28 919.4,517.29 C922.1,517.30 924.7,517.23 927.4,517.07 C930.1,516.91 932.7,516.66 935.4,516.34 C938.1,516.02 940.7,515.63 943.4,515.17 C946.1,514.71 948.7,514.18 951.4,513.59 C954.1,513.00 956.7,512.34 959.4,511.61 C962.1,510.88 964.7,510.07 967.4,509.18 C970.1,508.30 972.7,507.35 975.4,506.32 C978.1,505.29 980.7,504.19 983.4,503.02 C986.1,501.85 988.7,500.62 991.4,499.33 C994.1,498.05 996.7,496.71 999.4,495.35 C1002.1,493.99 1004.7,492.60 1007.4,491.20 C1010.1,489.81 1012.7,488.40 1015.4,486.99 C1018.1,485.58 1020.7,484.16 1023.4,482.74 C1026.1,481.32 1028.7,479.90 1031.4,478.47 C1034.1,477.05 1036.7,475.62 1039.4,474.20 C1042.1,472.77 1044.7,471.34 1047.4,469.91 C1048.8,469.18 1050.1,468.45 1051.5,467.72" fill="none" stroke="#ad3bff" stroke-width="3"/><path d="M95.4,641.61 C98.1,640.77 100.7,639.93 103.4,639.08 C106.1,638.24 108.7,637.39 111.4,636.55 C114.1,635.70 116.7,634.86 119.4,634.01 C122.1,633.17 124.7,632.32 127.4,631.47 C130.1,630.62 132.7,629.77 135.4,628.92 C138.1,628.06 140.7,627.21 143.4,626.35 C146.1,625.50 148.7,624.64 151.4,623.77 C154.1,622.91 156.7,622.05 159.4,621.18 C162.1,620.32 164.7,619.45 167.4,618.58 C170.1,617.71 172.7,616.84 175.4,615.96 C178.1,615.09 180.7,614.22 183.4,613.34 C186.1,612.46 188.7,611.58 191.4,610.71 C194.1,609.83 196.7,608.95 199.4,608.07 C202.1,607.20 204.7,606.32 207.4,605.46 C210.1,604.60 212.7,603.74 215.4,602.91 C218.1,602.07 220.7,601.25 223.4,600.46 C226.1,599.66 228.7,598.89 231.4,598.14 C234.1,597.39 236.7,596.66 239.4,595.95 C242.1,595.24 244.7,594.55 247.4,593.86 C250.1,593.18 252.7,592.50 255.4,591.82 C258.1,591.15 260.7,590.47 263.4,589.79 C266.1,589.12 268.7,588.43 271.4,587.73 C274.1,587.04 276.7,586.33 279.4,585.60 C282.1,584.88 284.7,584.14 287.4,583.38 C290.1,582.61 292.7,581.83 295.4,581.02 C298.1,580.21 300.7,579.37 303.4,578.49 C306.1,577.62 308.7,576.72 311.4,575.77 C314.1,574.82 316.7,573.84 319.4,572.81 C322.1,571.78 324.7,570.70 327.4,569.58 C330.1,568.47 332.7,567.30 335.4,566.09 C338.1,564.89 340.7,563.65 343.4,562.36 C346.1,561.08 348.7,559.74 351.4,558.34 C354.1,556.95 356.7,555.48 359.4,553.94 C362.1,552.40 364.7,550.77 367.4,549.05 C370.1,547.33 372.7,545.51 375.4,543.65 C378.1,541.79 380.7,539.88 383.4,537.96 C386.1,536.05 388.7,534.13 391.4,532.25 C394.1,530.37 396.7,528.52 399.4,526.71 C402.1,524.91 404.7,523.16 407.4,521.47 C410.1,519.79 412.7,518.17 415.4,516.65 C418.1,515.12 420.7,513.67 423.4,512.30 C426.1,510.93 428.7,509.62 431.4,508.38 C434.1,507.13 436.7,505.94 439.4,504.80 C442.1,503.65 444.7,502.56 447.4,501.52 C450.1,500.48 452.7,499.49 455.4,498.56 C458.1,497.63 460.7,496.77 463.4,495.98 C466.1,495.19 468.7,494.47 471.4,493.82 C474.1,493.16 476.7,492.57 479.4,492.03 C482.1,491.50 484.7,491.01 487.4,490.56 C490.1,490.12 492.7,489.71 495.4,489.33 C498.1,488.94 500.7,488.59 503.4,488.27 C506.1,487.94 508.7,487.64 511.4,487.35 C514.1,487.06 516.7,486.79 519.4,486.52 C522.1,486.25 524.7,485.99 527.4,485.73 C530.1,485.47 532.7,485.21 535.4,484.95 C538.1,484.69 540.7,484.43 543.4,484.16 C546.1,483.89 548.7,483.62 551.4,483.35 C554.1,483.08 556.7,482.80 559.4,482.53 C562.1,482.25 564.7,481.98 567.4,481.71 C570.1,481.44 572.7,481.17 575.4,480.91 C578.1,480.64 580.7,480.38 583.4,480.12 C586.1,479.86 588.7,479.61 591.4,479.35 C594.1,479.09 596.7,478.84 599.4,478.58 C602.1,478.33 604.7,478.08 607.4,477.84 C610.1,477.59 612.7,477.35 615.4,477.12 C618.1,476.89 620.7,476.66 623.4,476.44 C626.1,476.22 628.7,476.01 631.4,475.81 C634.1,475.60 636.7,475.40 639.4,475.21 C642.1,475.01 644.7,474.81 647.4,474.59 C650.1,474.37 652.7,474.14 655.4,473.87 C658.1,473.61 660.7,473.31 663.4,472.98 C666.1,472.65 668.7,472.28 671.4,471.87 C674.1,471.47 676.7,471.03 679.4,470.57 C682.1,470.11 684.7,469.62 687.4,469.13 C690.1,468.63 692.7,468.13 695.4,467.61 C698.1,467.09 700.7,466.57 703.4,466.04 C706.1,465.50 708.7,464.96 711.4,464.41 C714.1,463.85 716.7,463.28 719.4,462.69 C722.1,462.10 724.7,461.49 727.4,460.86 C730.1,460.23 732.7,459.59 735.4,458.93 C738.1,458.26 740.7,457.58 743.4,456.88 C746.1,456.17 748.7,455.45 751.4,454.69 C754.1,453.93 756.7,453.14 759.4,452.32 C762.1,451.51 764.7,450.66 767.4,449.80 C770.1,448.94 772.7,448.07 775.4,447.19 C778.1,446.30 780.7,445.40 783.4,444.49 C786.1,443.58 788.7,442.66 791.4,441.72 C794.1,440.79 796.7,439.84 799.4,438.87 C802.1,437.90 804.7,436.91 807.4,435.89 C810.1,434.88 812.7,433.84 815.4,432.77 C818.1,431.70 820.7,430.62 823.4,429.52 C826.1,428.42 828.7,427.30 831.4,426.19 C834.1,425.07 836.7,423.96 839.4,422.87 C842.1,421.78 844.7,420.71 847.4,419.64 C850.1,418.58 852.7,417.52 855.4,416.45 C858.1,415.39 860.7,414.32 863.4,413.23 C866.1,412.14 868.7,411.04 871.4,409.91 C874.1,408.78 876.7,407.62 879.4,406.43 C882.1,405.23 884.7,403.99 887.4,402.72 C890.1,401.44 892.7,400.12 895.4,398.76 C898.1,397.40 900.7,396.00 903.4,394.55 C906.1,393.11 908.7,391.62 911.4,390.09 C914.1,388.57 916.7,387.00 919.4,385.40 C922.1,383.80 924.7,382.16 927.4,380.48 C930.1,378.80 932.7,377.08 935.4,375.32 C938.1,373.55 940.7,371.73 943.4,369.86 C946.1,367.98 948.7,366.05 951.4,364.06 C954.1,362.07 956.7,360.04 959.4,357.97 C962.1,355.90 964.7,353.79 967.4,351.66 C970.1,349.54 972.7,347.38 975.4,345.22 C978.1,343.05 980.7,340.88 983.4,338.69 C986.1,336.50 988.7,334.30 991.4,332.10 C994.1,329.90 996.7,327.69 999.4,325.49 C1002.1,323.28 1004.7,321.07 1007.4,318.87 C1010.1,316.67 1012.7,314.47 1015.4,312.27 C1018.1,310.06 1020.7,307.85 1023.4,305.63 C1026.1,303.41 1028.7,301.18 1031.4,298.93 C1034.1,296.68 1036.7,294.42 1039.4,292.13 C1042.1,289.85 1044.7,287.54 1047.4,285.23 C1048.8,284.04 1050.1,282.85 1051.5,281.67 L1051.5,651.5 L95.4,651.5 Z" fill="url(#g_ai)"/><path d="M95.4,641.61 C98.1,640.77 100.7,639.93 103.4,639.08 C106.1,638.24 108.7,637.39 111.4,636.55 C114.1,635.70 116.7,634.86 119.4,634.01 C122.1,633.17 124.7,632.32 127.4,631.47 C130.1,630.62 132.7,629.77 135.4,628.92 C138.1,628.06 140.7,627.21 143.4,626.35 C146.1,625.50 148.7,624.64 151.4,623.77 C154.1,622.91 156.7,622.05 159.4,621.18 C162.1,620.32 164.7,619.45 167.4,618.58 C170.1,617.71 172.7,616.84 175.4,615.96 C178.1,615.09 180.7,614.22 183.4,613.34 C186.1,612.46 188.7,611.58 191.4,610.71 C194.1,609.83 196.7,608.95 199.4,608.07 C202.1,607.20 204.7,606.32 207.4,605.46 C210.1,604.60 212.7,603.74 215.4,602.91 C218.1,602.07 220.7,601.25 223.4,600.46 C226.1,599.66 228.7,598.89 231.4,598.14 C234.1,597.39 236.7,596.66 239.4,595.95 C242.1,595.24 244.7,594.55 247.4,593.86 C250.1,593.18 252.7,592.50 255.4,591.82 C258.1,591.15 260.7,590.47 263.4,589.79 C266.1,589.12 268.7,588.43 271.4,587.73 C274.1,587.04 276.7,586.33 279.4,585.60 C282.1,584.88 284.7,584.14 287.4,583.38 C290.1,582.61 292.7,581.83 295.4,581.02 C298.1,580.21 300.7,579.37 303.4,578.49 C306.1,577.62 308.7,576.72 311.4,575.77 C314.1,574.82 316.7,573.84 319.4,572.81 C322.1,571.78 324.7,570.70 327.4,569.58 C330.1,568.47 332.7,567.30 335.4,566.09 C338.1,564.89 340.7,563.65 343.4,562.36 C346.1,561.08 348.7,559.74 351.4,558.34 C354.1,556.95 356.7,555.48 359.4,553.94 C362.1,552.40 364.7,550.77 367.4,549.05 C370.1,547.33 372.7,545.51 375.4,543.65 C378.1,541.79 380.7,539.88 383.4,537.96 C386.1,536.05 388.7,534.13 391.4,532.25 C394.1,530.37 396.7,528.52 399.4,526.71 C402.1,524.91 404.7,523.16 407.4,521.47 C410.1,519.79 412.7,518.17 415.4,516.65 C418.1,515.12 420.7,513.67 423.4,512.30 C426.1,510.93 428.7,509.62 431.4,508.38 C434.1,507.13 436.7,505.94 439.4,504.80 C442.1,503.65 444.7,502.56 447.4,501.52 C450.1,500.48 452.7,499.49 455.4,498.56 C458.1,497.63 460.7,496.77 463.4,495.98 C466.1,495.19 468.7,494.47 471.4,493.82 C474.1,493.16 476.7,492.57 479.4,492.03 C482.1,491.50 484.7,491.01 487.4,490.56 C490.1,490.12 492.7,489.71 495.4,489.33 C498.1,488.94 500.7,488.59 503.4,488.27 C506.1,487.94 508.7,487.64 511.4,487.35 C514.1,487.06 516.7,486.79 519.4,486.52 C522.1,486.25 524.7,485.99 527.4,485.73 C530.1,485.47 532.7,485.21 535.4,484.95 C538.1,484.69 540.7,484.43 543.4,484.16 C546.1,483.89 548.7,483.62 551.4,483.35 C554.1,483.08 556.7,482.80 559.4,482.53 C562.1,482.25 564.7,481.98 567.4,481.71 C570.1,481.44 572.7,481.17 575.4,480.91 C578.1,480.64 580.7,480.38 583.4,480.12 C586.1,479.86 588.7,479.61 591.4,479.35 C594.1,479.09 596.7,478.84 599.4,478.58 C602.1,478.33 604.7,478.08 607.4,477.84 C610.1,477.59 612.7,477.35 615.4,477.12 C618.1,476.89 620.7,476.66 623.4,476.44 C626.1,476.22 628.7,476.01 631.4,475.81 C634.1,475.60 636.7,475.40 639.4,475.21 C642.1,475.01 644.7,474.81 647.4,474.59 C650.1,474.37 652.7,474.14 655.4,473.87 C658.1,473.61 660.7,473.31 663.4,472.98 C666.1,472.65 668.7,472.28 671.4,471.87 C674.1,471.47 676.7,471.03 679.4,470.57 C682.1,470.11 684.7,469.62 687.4,469.13 C690.1,468.63 692.7,468.13 695.4,467.61 C698.1,467.09 700.7,466.57 703.4,466.04 C706.1,465.50 708.7,464.96 711.4,464.41 C714.1,463.85 716.7,463.28 719.4,462.69 C722.1,462.10 724.7,461.49 727.4,460.86 C730.1,460.23 732.7,459.59 735.4,458.93 C738.1,458.26 740.7,457.58 743.4,456.88 C746.1,456.17 748.7,455.45 751.4,454.69 C754.1,453.93 756.7,453.14 759.4,452.32 C762.1,451.51 764.7,450.66 767.4,449.80 C770.1,448.94 772.7,448.07 775.4,447.19 C778.1,446.30 780.7,445.40 783.4,444.49 C786.1,443.58 788.7,442.66 791.4,441.72 C794.1,440.79 796.7,439.84 799.4,438.87 C802.1,437.90 804.7,436.91 807.4,435.89 C810.1,434.88 812.7,433.84 815.4,432.77 C818.1,431.70 820.7,430.62 823.4,429.52 C826.1,428.42 828.7,427.30 831.4,426.19 C834.1,425.07 836.7,423.96 839.4,422.87 C842.1,421.78 844.7,420.71 847.4,419.64 C850.1,418.58 852.7,417.52 855.4,416.45 C858.1,415.39 860.7,414.32 863.4,413.23 C866.1,412.14 868.7,411.04 871.4,409.91 C874.1,408.78 876.7,407.62 879.4,406.43 C882.1,405.23 884.7,403.99 887.4,402.72 C890.1,401.44 892.7,400.12 895.4,398.76 C898.1,397.40 900.7,396.00 903.4,394.55 C906.1,393.11 908.7,391.62 911.4,390.09 C914.1,388.57 916.7,387.00 919.4,385.40 C922.1,383.80 924.7,382.16 927.4,380.48 C930.1,378.80 932.7,377.08 935.4,375.32 C938.1,373.55 940.7,371.73 943.4,369.86 C946.1,367.98 948.7,366.05 951.4,364.06 C954.1,362.07 956.7,360.04 959.4,357.97 C962.1,355.90 964.7,353.79 967.4,351.66 C970.1,349.54 972.7,347.38 975.4,345.22 C978.1,343.05 980.7,340.88 983.4,338.69 C986.1,336.50 988.7,334.30 991.4,332.10 C994.1,329.90 996.7,327.69 999.4,325.49 C1002.1,323.28 1004.7,321.07 1007.4,318.87 C1010.1,316.67 1012.7,314.47 1015.4,312.27 C1018.1,310.06 1020.7,307.85 1023.4,305.63 C1026.1,303.41 1028.7,301.18 1031.4,298.93 C1034.1,296.68 1036.7,294.42 1039.4,292.13 C1042.1,289.85 1044.7,287.54 1047.4,285.23 C1048.8,284.04 1050.1,282.85 1051.5,281.67" fill="none" stroke="#8aa3ea" stroke-width="3"/>
<mask id="wm" maskUnits="userSpaceOnUse" x="0" y="0" width="1088" height="726"><path d="M390.30,446.01 Q394.80,453.80 390.30,461.59 L375.30,487.57 Q370.80,495.37 361.80,495.37 L331.80,495.37 Q322.80,495.37 318.30,487.57 L303.30,461.59 Q298.80,453.80 303.30,446.01 L318.30,420.03 Q322.80,412.23 331.80,412.23 L361.80,412.23 Q370.80,412.23 375.30,420.03 Z" fill="#fff"/><g fill="none" stroke="#000" stroke-width="5"><path d="M346.80,476.30 A24.00,24.00 0 1 0 329.83,469.27 L346.80,452.30"/><path d="M346.80,465.74 A13.44,13.44 0 1 0 335.16,459.02"/></g><circle cx="346.8" cy="452.3" r="5.6" fill="#000"/></mask>
<rect x="290" y="400" width="110" height="110" fill="#ffffff" fill-opacity="0.05" mask="url(#wm)"/>
<text x="407.6" y="480.6" font-family="Liberation Sans" font-weight="700" font-size="78" fill="#ffffff" fill-opacity="0.045" textLength="375" lengthAdjust="spacingAndGlyphs">DappRadar</text>
<line x1="36" y1="651.5" x2="1052" y2="651.5" stroke="#46557a" stroke-width="1.2"/>

<g font-family="Liberation Sans" font-size="16" fill="#c9d0dc">
<text x="37" y="250.8">6M</text><text x="37" y="382.2">4M</text><text x="37" y="514">2M</text><text x="37" y="645.5">0</text>
<text x="143.6" y="680" text-anchor="middle">Jan</text><text x="250.1" y="680" text-anchor="middle">Feb</text><text x="357.9" y="680" text-anchor="middle">Mar</text><text x="465.0" y="680" text-anchor="middle">Apr</text><text x="573.3" y="680" text-anchor="middle">May</text><text x="681.8" y="680" text-anchor="middle">Jun</text><text x="787.0" y="680" text-anchor="middle">Jul</text><text x="892.7" y="680" text-anchor="middle">Aug</text><text x="1001.2" y="680" text-anchor="middle">Sep</text>
</g>
</svg>
</body></html>
